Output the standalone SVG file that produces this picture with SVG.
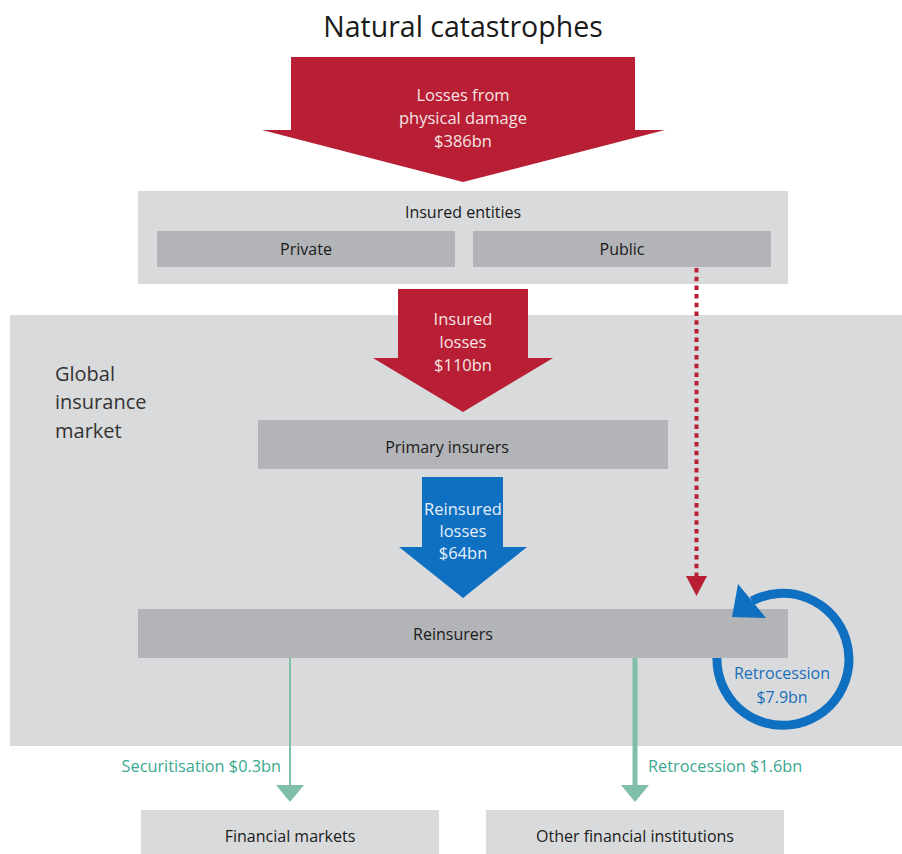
<svg xmlns="http://www.w3.org/2000/svg" width="902" height="854" viewBox="0 0 902 854">
<style>
text{font-family:"Open Sans","Noto Sans","Liberation Sans",sans-serif;}
.lbl{font-size:16px;fill:#1a1a1a;text-anchor:middle;}
.wt{font-size:16.5px;fill:#f6e3e5;text-anchor:middle;}
.wb{font-size:16.5px;fill:#e6f0fa;text-anchor:middle;}
.bg{fill:#d9dadc;}
.box{fill:#b3b4b7;}
.red{fill:#b81f34;}
.blue{fill:#0f6fc0;}
.grn{font-size:16.3px;fill:#3aa890;}
.gm{font-size:20px;fill:#333;}
.rt{font-size:16px;fill:#1a6fba;text-anchor:middle;}
</style>
<rect width="902" height="854" fill="#ffffff"/>
<text x="463" y="37" style="font-size:28.5px;fill:#1a1a1a;text-anchor:middle;">Natural catastrophes</text>

<g id="global-market">
<rect class="bg" x="10" y="315" width="892" height="431"/>
<text class="gm" x="55" y="381">Global</text>
<text class="gm" x="55" y="409">insurance</text>
<text class="gm" x="55" y="438">market</text>
</g>

<g id="arrow-physical">
<polygon class="red" points="291,57 635,57 635,130 665,130 463,182 262,130 291,130"/>
<text class="wt" x="463" y="101">Losses from</text>
<text class="wt" x="463" y="124">physical damage</text>
<text class="wt" x="463" y="147">$386bn</text>
</g>

<g id="insured-entities">
<rect class="bg" x="138" y="191" width="650" height="93"/>
<text class="lbl" x="463" y="218">Insured entities</text>
</g>
<g id="private"><rect class="box" x="157" y="231" width="298" height="36"/><text class="lbl" x="306" y="255">Private</text></g>
<g id="public"><rect class="box" x="473" y="231" width="298" height="36"/><text class="lbl" x="622" y="255">Public</text></g>

<g id="arrow-insured">
<polygon class="red" points="398,289 528,289 528,358 553,358 463,412 373,358 398,358"/>
<text class="wt" x="463" y="325">Insured</text>
<text class="wt" x="463" y="348">losses</text>
<text class="wt" x="463" y="371">$110bn</text>
</g>

<g id="primary"><rect class="box" x="258" y="420" width="410" height="49"/><text class="lbl" x="447" y="453">Primary insurers</text></g>

<g id="arrow-reinsured">
<polygon class="blue" points="422,477 503,477 503,547 527,547 463,598 399,547 422,547"/>
<text class="wb" x="463" y="515">Reinsured</text>
<text class="wb" x="463" y="537">losses</text>
<text class="wb" x="463" y="559">$64bn</text>
</g>

<g id="connectors">
<path d="M752,601 A66,66 0 1 1 717,657" fill="none" stroke="#0f6fc0" stroke-width="9"/>
<line x1="696.5" y1="268" x2="696.5" y2="578" stroke="#b81f34" stroke-width="4" stroke-dasharray="4.5 4.2"/>
<polygon class="red" points="686,576 707,576 696.5,596"/>
<line x1="290" y1="658" x2="290" y2="786" stroke="#7fbfa9" stroke-width="2"/>
<polygon points="276,785 304,785 290,802" fill="#7fbfa9"/>
<line x1="635" y1="658" x2="635" y2="786" stroke="#7fbfa9" stroke-width="5"/>
<polygon points="621,785 649,785 635,802" fill="#7fbfa9"/>
</g>

<g id="reinsurers"><rect class="box" x="138" y="609" width="650" height="49"/><text class="lbl" x="453" y="640">Reinsurers</text></g>

<g id="retro-loop">
<polygon class="blue" points="738,584 766,618 732,617"/>
<text class="rt" x="782" y="679">Retrocession</text>
<text class="rt" x="782" y="703">$7.9bn</text>
</g>

<g id="labels">
<text class="grn" x="281" y="772" text-anchor="end">Securitisation $0.3bn</text>
<text class="grn" x="648" y="772">Retrocession $1.6bn</text>
</g>

<g id="financial-markets"><rect class="bg" x="141" y="810" width="298" height="44"/><text class="lbl" x="290" y="842">Financial markets</text></g>
<g id="other-institutions"><rect class="bg" x="486" y="810" width="298" height="44"/><text class="lbl" x="635" y="842">Other financial institutions</text></g>
</svg>
